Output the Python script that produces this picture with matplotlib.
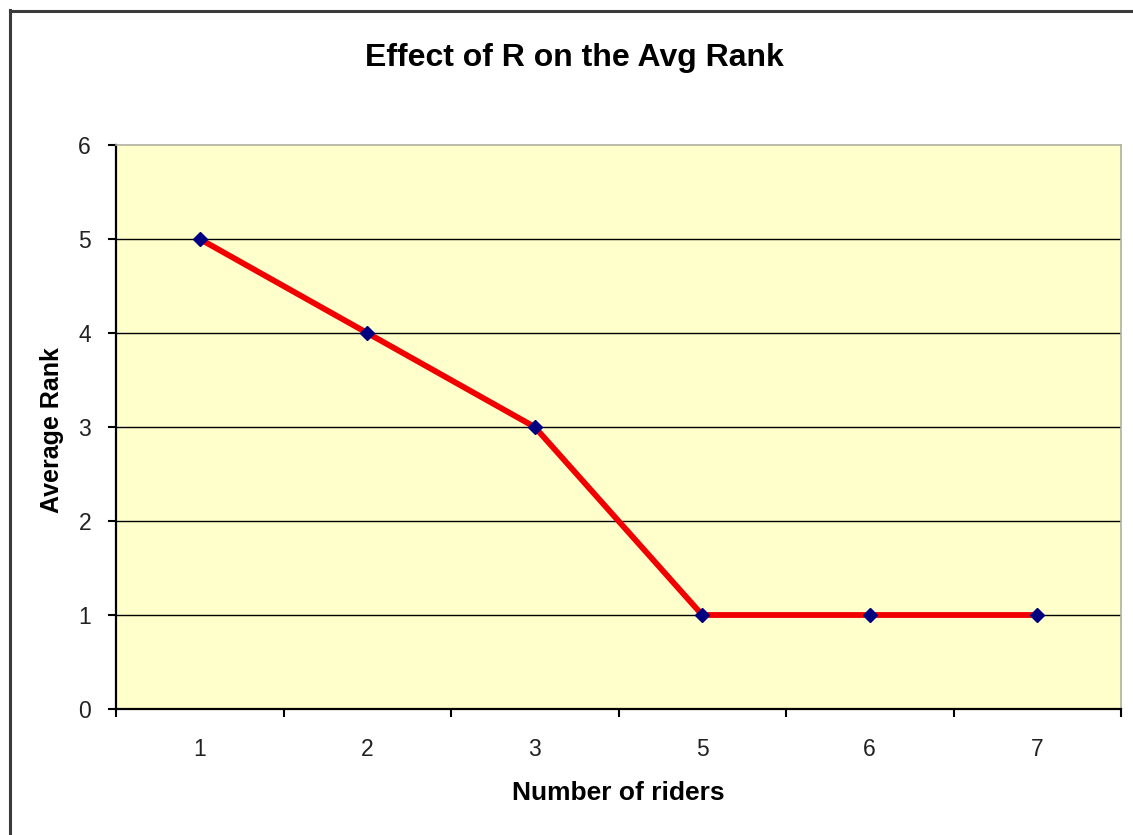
import matplotlib
matplotlib.use("Agg")
import matplotlib.pyplot as plt
from matplotlib.lines import Line2D
import numpy as np

riders = ["1", "2", "3", "5", "6", "7"]
avg_rank = [5, 4, 3, 1, 1, 1]
y_ticks = [0, 1, 2, 3, 4, 5, 6]

W, H = 1133, 835
DPI = 100
plt.rcParams["font.family"] = ["Liberation Sans", "DejaVu Sans"]

fig = plt.figure(figsize=(W / DPI, H / DPI), dpi=DPI, facecolor="white")

# plot area in pixel coordinates
x0, x1, ytop, ybot = 116, 1121, 145, 709
ax = fig.add_axes([x0 / W, (H - ybot) / H, (x1 - x0) / W, (ybot - ytop) / H])
ax.set_facecolor("#FFFFCC")

pos = np.arange(1, len(riders) + 1)
ax.set_xlim(0.5, len(riders) + 0.5)
ax.set_ylim(0, 6)

for yv in y_ticks[1:-1]:
    ax.axhline(yv, color="black", lw=1.0, zorder=1)

ax.plot(pos, avg_rank, color="#F00000", lw=4.2, zorder=3, solid_joinstyle="round")
ax.plot(pos, avg_rank, linestyle="none", marker="D", markersize=7,
        markerfacecolor="#000080", markeredgecolor="#000080", zorder=4)

# spines
for side in ("left", "bottom"):
    ax.spines[side].set_color("black")
    ax.spines[side].set_linewidth(1.6)
for side in ("top", "right"):
    ax.spines[side].set_color("#B0B0A0")
    ax.spines[side].set_linewidth(1.2)

ax.set_yticks(y_ticks)
ax.set_yticklabels([str(v) for v in y_ticks])
ax.set_xticks(np.arange(0.5, len(riders) + 1.0, 1.0))
ax.set_xticklabels([])
ax.set_xticks(pos, minor=True)
ax.set_xticklabels(riders, minor=True)
ax.tick_params(axis="x", which="major", direction="out", length=6, width=1.5, color="black")
ax.tick_params(axis="x", which="minor", length=0, pad=21, labelsize=16.5, labelcolor="#222222")
ax.tick_params(axis="y", direction="out", length=6, width=1.5, color="black",
               pad=12, labelsize=16.5, labelcolor="#222222")

fig.text(574 / W, 1 - 58 / H, "Effect of R on the Avg Rank", ha="center", va="center",
         fontsize=23, fontweight="bold", color="black")
fig.text(618 / W, 1 - 793 / H, "Number of riders", ha="center", va="center",
         fontsize=19, fontweight="bold", color="black")
fig.text(52 / W, 1 - 430 / H, "Average Rank", ha="center", va="center", rotation=90,
         fontsize=18, fontweight="bold", color="black")

# chart frame
fig.add_artist(Line2D([10 / W, 10 / W], [0, 1 - 10 / H], transform=fig.transFigure,
                      color="#3A3A3A", lw=2.2))
fig.add_artist(Line2D([10 / W, 1], [1 - 11 / H, 1 - 11 / H], transform=fig.transFigure,
                      color="#3A3A3A", lw=2.2))

fig.savefig("out.png", dpi=DPI, facecolor="white")
